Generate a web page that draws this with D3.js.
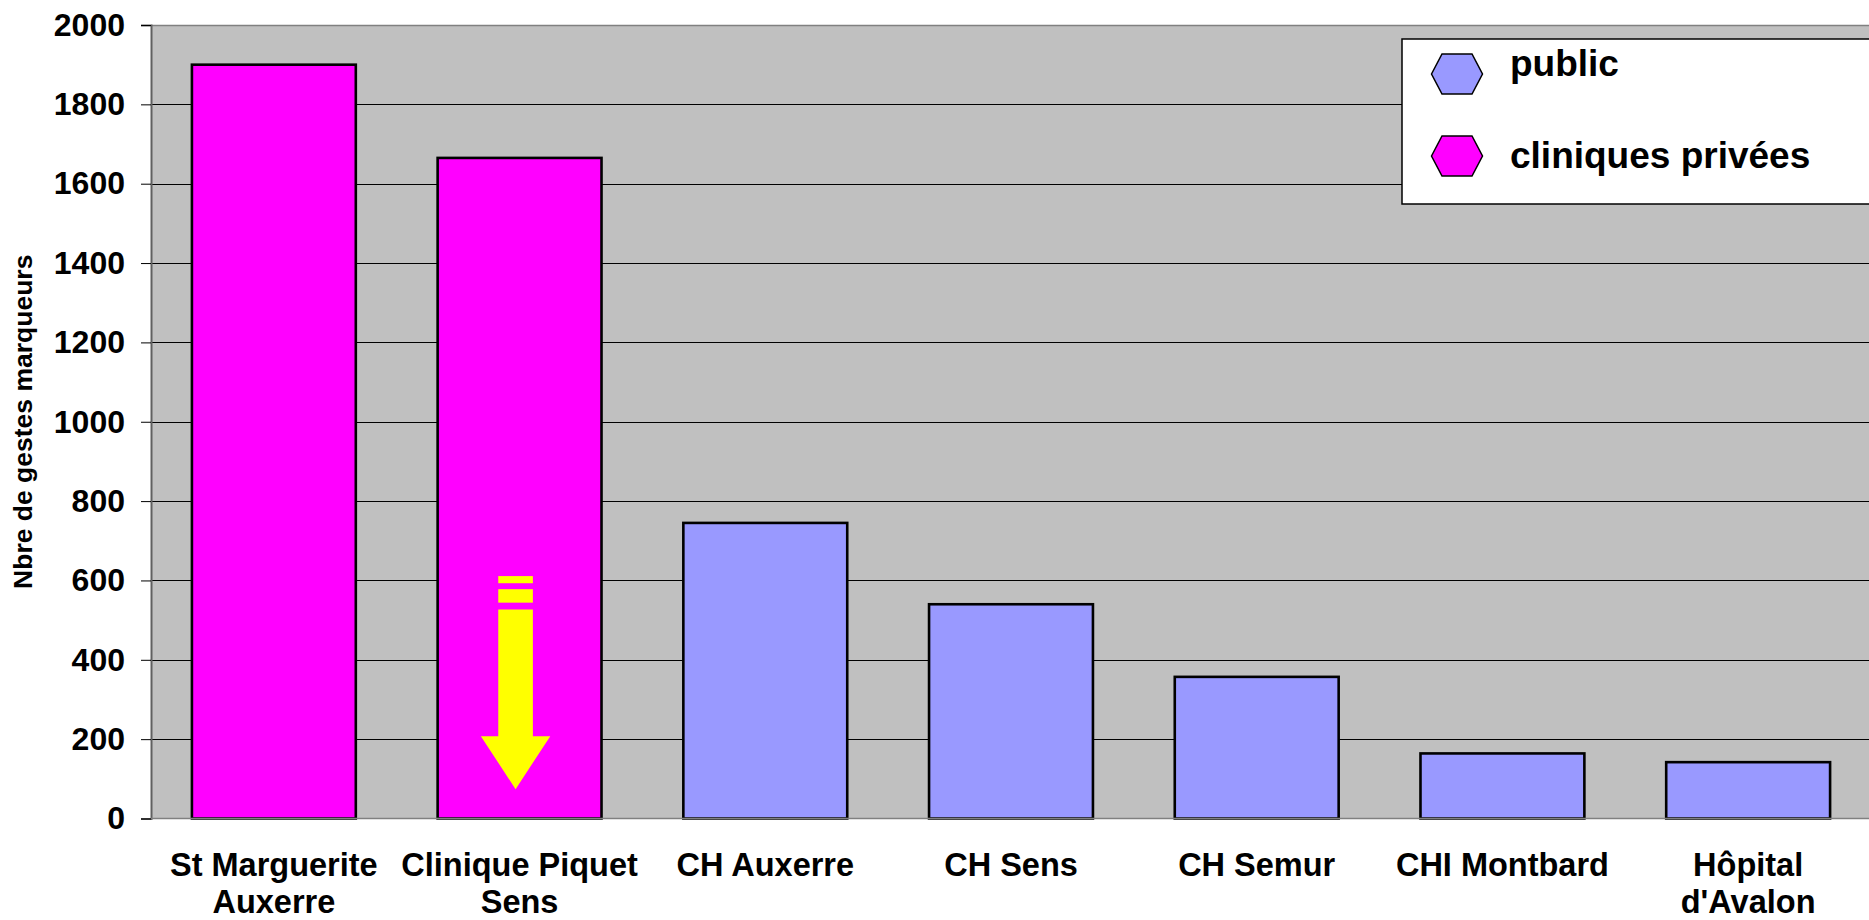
<!DOCTYPE html>
<html><head><meta charset="utf-8">
<script src="https://cdn.jsdelivr.net/npm/d3@7"></script>
<style>
body{margin:0;background:#fff}
svg{display:block}
text{font-family:"Liberation Sans",Arial,Helvetica,sans-serif;font-weight:bold;fill:#000}
</style>
</head><body>
<svg id="c" width="1869" height="920"></svg>
<script>
const categories = ["St Marguerite\nAuxerre", "Clinique Piquet\nSens", "CH Auxerre", "CH Sens", "CH Semur", "CHI Montbard", "Hôpital\nd'Avalon"];
const values = [1900, 1665, 745, 540, 357, 164, 142];
const sectors = ["cliniques privées", "cliniques privées", "public", "public", "public", "public", "public"];
const seriesNames = ["public", "cliniques privées"];
const seriesColors = ["#9999FF", "#FF00FF"];
const yTicks = [0, 200, 400, 600, 800, 1000, 1200, 1400, 1600, 1800, 2000];
const yTitle = "Nbre de gestes marqueurs";

(function () {
const svg = d3.select("#c");
const W = 1869;
const pL = 151, pR = 1871, pT = 25, pB = 818.5;

const x = d3.scaleBand().domain(categories).range([pL, pR]).paddingInner(0.333).paddingOuter(0.1665);
const y = d3.scaleLinear().domain([0, 2000]).range([pB, pT]);
const color = d3.scaleOrdinal().domain(seriesNames).range(seriesColors);

// plot background
svg.append("rect").attr("x", pL).attr("y", pT).attr("width", W - pL).attr("height", pB - pT).attr("fill", "#C0C0C0");

// gridlines
svg.append("g").selectAll("line").data(yTicks.filter(t => t > 0 && t < 2000)).join("line")
  .attr("x1", pL).attr("x2", W)
  .attr("y1", d => Math.round(y(d)) + 0.5).attr("y2", d => Math.round(y(d)) + 0.5)
  .attr("stroke", "#000").attr("stroke-width", 1);

// top border
svg.append("line").attr("x1", pL).attr("x2", W).attr("y1", pT + 0.5).attr("y2", pT + 0.5).attr("stroke", "#808080").attr("stroke-width", 1.5);

// y axis
const yAxis = d3.axisLeft(y).tickValues(yTicks).tickSize(10).tickPadding(16).tickFormat(d3.format("d"));
const ga = svg.append("g").attr("transform", `translate(${pL},0)`).call(yAxis);
ga.select(".domain").attr("stroke", "#606060").attr("stroke-width", 2);
ga.selectAll(".tick line").attr("stroke", "#000").attr("stroke-width", 1);
ga.selectAll(".tick text").attr("font-size", 32).attr("font-family", '"Liberation Sans",Arial,sans-serif').attr("font-weight", "bold").attr("fill", "#000");

// bars
svg.append("g").selectAll("rect").data(categories).join("rect")
  .attr("x", d => x(d)).attr("width", x.bandwidth())
  .attr("y", (d, i) => y(values[i])).attr("height", (d, i) => y(0) - y(values[i]))
  .attr("fill", (d, i) => color(sectors[i]))
  .attr("stroke", "#000").attr("stroke-width", 2.6);

// x axis baseline
svg.append("line").attr("x1", pL).attr("x2", W).attr("y1", pB).attr("y2", pB).attr("stroke", "#808080").attr("stroke-width", 1.5);

// category labels
const gl = svg.append("g");
categories.forEach(c => {
  const lines = c.split("\n");
  const t = gl.append("text").attr("text-anchor", "middle").attr("font-size", 32.5);
  lines.forEach((l, j) => {
    t.append("tspan").attr("x", x(c) + x.bandwidth() / 2).attr("y", 876 + j * 37).text(l);
  });
});

// y title
svg.append("text").attr("transform", `translate(${32},${(pT + pB) / 2}) rotate(-90)`)
  .attr("text-anchor", "middle").attr("font-size", 26.5).text(yTitle);

// yellow down arrow on Clinique Piquet Sens bar
const ac = x(categories[1]) + x.bandwidth() / 2 - 4;
const ar = svg.append("g").attr("fill", "#FFFF00");
const sw = 17.3;
ar.append("rect").attr("x", ac - sw).attr("width", 2 * sw).attr("y", y(611)).attr("height", y(593) - y(611));
ar.append("rect").attr("x", ac - sw).attr("width", 2 * sw).attr("y", y(578)).attr("height", y(544) - y(578));
ar.append("path").attr("d", d3.line()([
  [ac - sw, y(527)], [ac + sw, y(527)], [ac + sw, y(207.5)], [ac + 34.7, y(207.5)],
  [ac, y(74)], [ac - 34.7, y(207.5)], [ac - sw, y(207.5)]
]) + "Z");

// legend
const lg = svg.append("g");
lg.append("rect").attr("x", 1402).attr("y", 39).attr("width", 500).attr("height", 165)
  .attr("fill", "#fff").attr("stroke", "#000").attr("stroke-width", 1.5);
const hex = (cx, cy) => d3.line()([[cx - 25.5, cy], [cx - 15, cy - 20], [cx + 15, cy - 20], [cx + 25.5, cy], [cx + 15, cy + 20], [cx - 15, cy + 20]]) + "Z";
const legY = [74, 156];
const legBase = [76, 168];
seriesNames.forEach((s, i) => {
  lg.append("path").attr("d", hex(1457, legY[i])).attr("fill", color(s)).attr("stroke", "#000").attr("stroke-width", 1.5);
  lg.append("text").attr("x", 1510).attr("y", legBase[i]).attr("font-size", 37).text(s);
});
})();
</script>
</body></html>
